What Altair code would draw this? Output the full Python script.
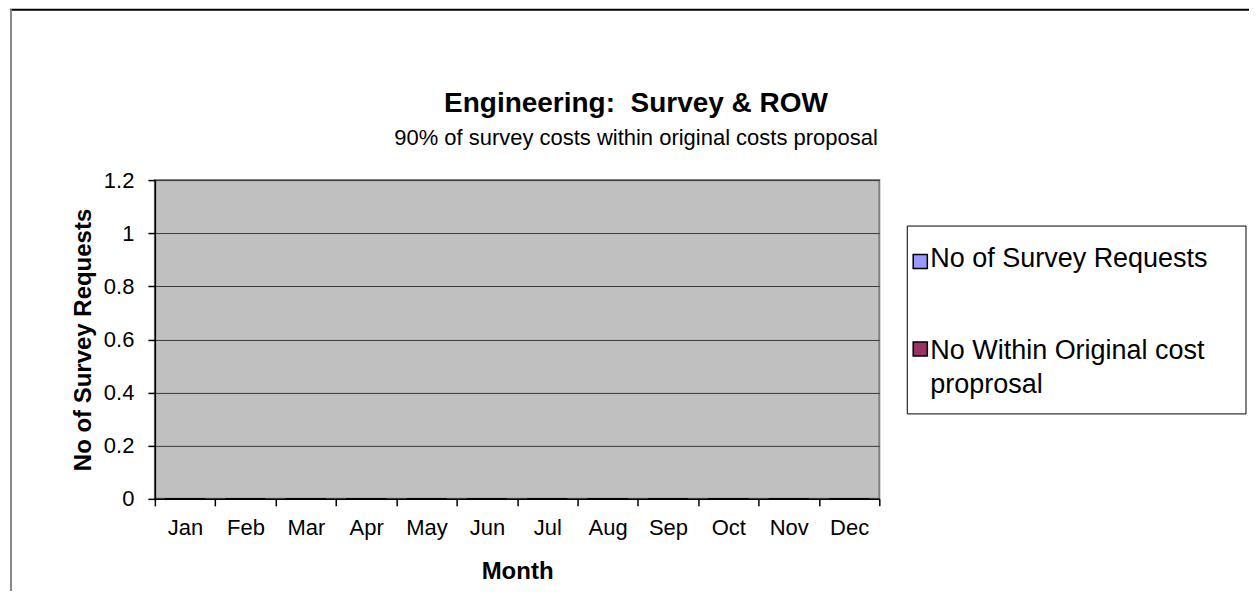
import altair as alt
import pandas as pd

# ---- data (no visible bars: every month is zero) ----
months = ["Jan", "Feb", "Mar", "Apr", "May", "Jun", "Jul", "Aug", "Sep", "Oct", "Nov", "Dec"]
survey_requests = [0, 0, 0, 0, 0, 0, 0, 0, 0, 0, 0, 0]
within_original = [0, 0, 0, 0, 0, 0, 0, 0, 0, 0, 0, 0]
series_names = ["No of Survey Requests", "No Within Original cost proprosal"]
series_colors = ["#9999FF", "#993366"]
legend_lines = [["No of Survey Requests"], ["No Within Original cost", "proprosal"]]
y_ticks = [0, 0.2, 0.4, 0.6, 0.8, 1.0, 1.2]

title_text = "Engineering:\u00a0 Survey & ROW"
subtitle_text = "90% of survey costs within original costs proposal"

FONT = "Liberation Sans, Arial, Helvetica, sans-serif"

rows = []
for m, a, b in zip(months, survey_requests, within_original):
    rows.append({"month": m, "series": series_names[0], "value": a})
    rows.append({"month": m, "series": series_names[1], "value": b})
df = pd.DataFrame(rows)

color_scale = alt.Scale(domain=series_names, range=series_colors)

W, H = 725, 319

bars = alt.Chart(df).mark_bar(stroke="black", strokeWidth=1).encode(
    x=alt.X("month:N", sort=months,
            scale=alt.Scale(paddingInner=0, paddingOuter=0),
            axis=alt.Axis(title="Month", tickBand="extent", labelAngle=0,
                          labelPadding=12, titlePadding=21, grid=False)),
    xOffset=alt.XOffset("series:N", sort=series_names,
                        scale=alt.Scale(paddingOuter=0.5, paddingInner=0)),
    y=alt.Y("value:Q", scale=alt.Scale(domain=[0, 1.2], nice=False, zero=True),
            axis=alt.Axis(title="No of Survey Requests", values=y_ticks, format="~g",
                          grid=True, gridColor="#3a3a3a", gridWidth=1,
                          labelPadding=14, titlePadding=8)),
    color=alt.Color("series:N", scale=color_scale, legend=None),
)

one = pd.DataFrame({"a": [0]})

# outer chart-area frame (top and left edges visible in the reference)
frame_top = alt.Chart(one).mark_rule(color="black", strokeWidth=2).encode(
    x=alt.value(-145), x2=alt.value(1110), y=alt.value(-170.5))
frame_left = alt.Chart(one).mark_rule(color="#888888", strokeWidth=2).encode(
    x=alt.value(-144), y=alt.value(-171), y2=alt.value(420))

# legend box
leg_box = alt.Chart(one).mark_rect(fill="white", stroke="black", strokeWidth=1).encode(
    x=alt.value(753), x2=alt.value(1092), y=alt.value(46), y2=alt.value(234))

leg_df = pd.DataFrame({"series": series_names})
sym_y = [81.5, 169]
txt_y = [87, 179]
leg_layers = []
for i, name in enumerate(series_names):
    sq = alt.Chart(leg_df).transform_filter(alt.datum.series == name).mark_square(
        size=200, filled=True, opacity=1, stroke="black", strokeWidth=1.5).encode(
        x=alt.value(766), y=alt.value(sym_y[i]),
        color=alt.Color("series:N", scale=color_scale, legend=None))
    tx = alt.Chart(leg_df).transform_filter(alt.datum.series == name).mark_text(
        text=legend_lines[i] if len(legend_lines[i]) > 1 else legend_lines[i][0],
        align="left", baseline="alphabetic", font=FONT, fontSize=27,
        lineHeight=34, color="black").encode(
        x=alt.value(776), y=alt.value(txt_y[i]))
    leg_layers += [sq, tx]

chart = alt.layer(frame_top, frame_left, bars, leg_box, *leg_layers).properties(
    width=W, height=H,
    title=alt.TitleParams(text=title_text, subtitle=subtitle_text,
                          font=FONT, fontSize=28, fontWeight="bold", color="black",
                          subtitleFont=FONT, subtitleFontSize=22, subtitleColor="black",
                          subtitlePadding=10, anchor="middle", frame="group",
                          dx=119, dy=163, offset=22),
    autosize=alt.AutoSizeParams(type="none"),
    padding={"left": 147, "top": 172, "right": 370, "bottom": 92},
).configure_view(
    fill="#C0C0C0", stroke="#808080", strokeWidth=2
).configure_axis(
    labelFont=FONT, labelFontSize=22, labelColor="black",
    titleFont=FONT, titleFontSize=24, titleFontWeight="bold", titleColor="black",
    domainColor="black", domainWidth=1.5, tickColor="black", tickSize=7, tickWidth=1.5,
)

chart.save("out.html", embed_options={"renderer": "svg", "actions": False})
